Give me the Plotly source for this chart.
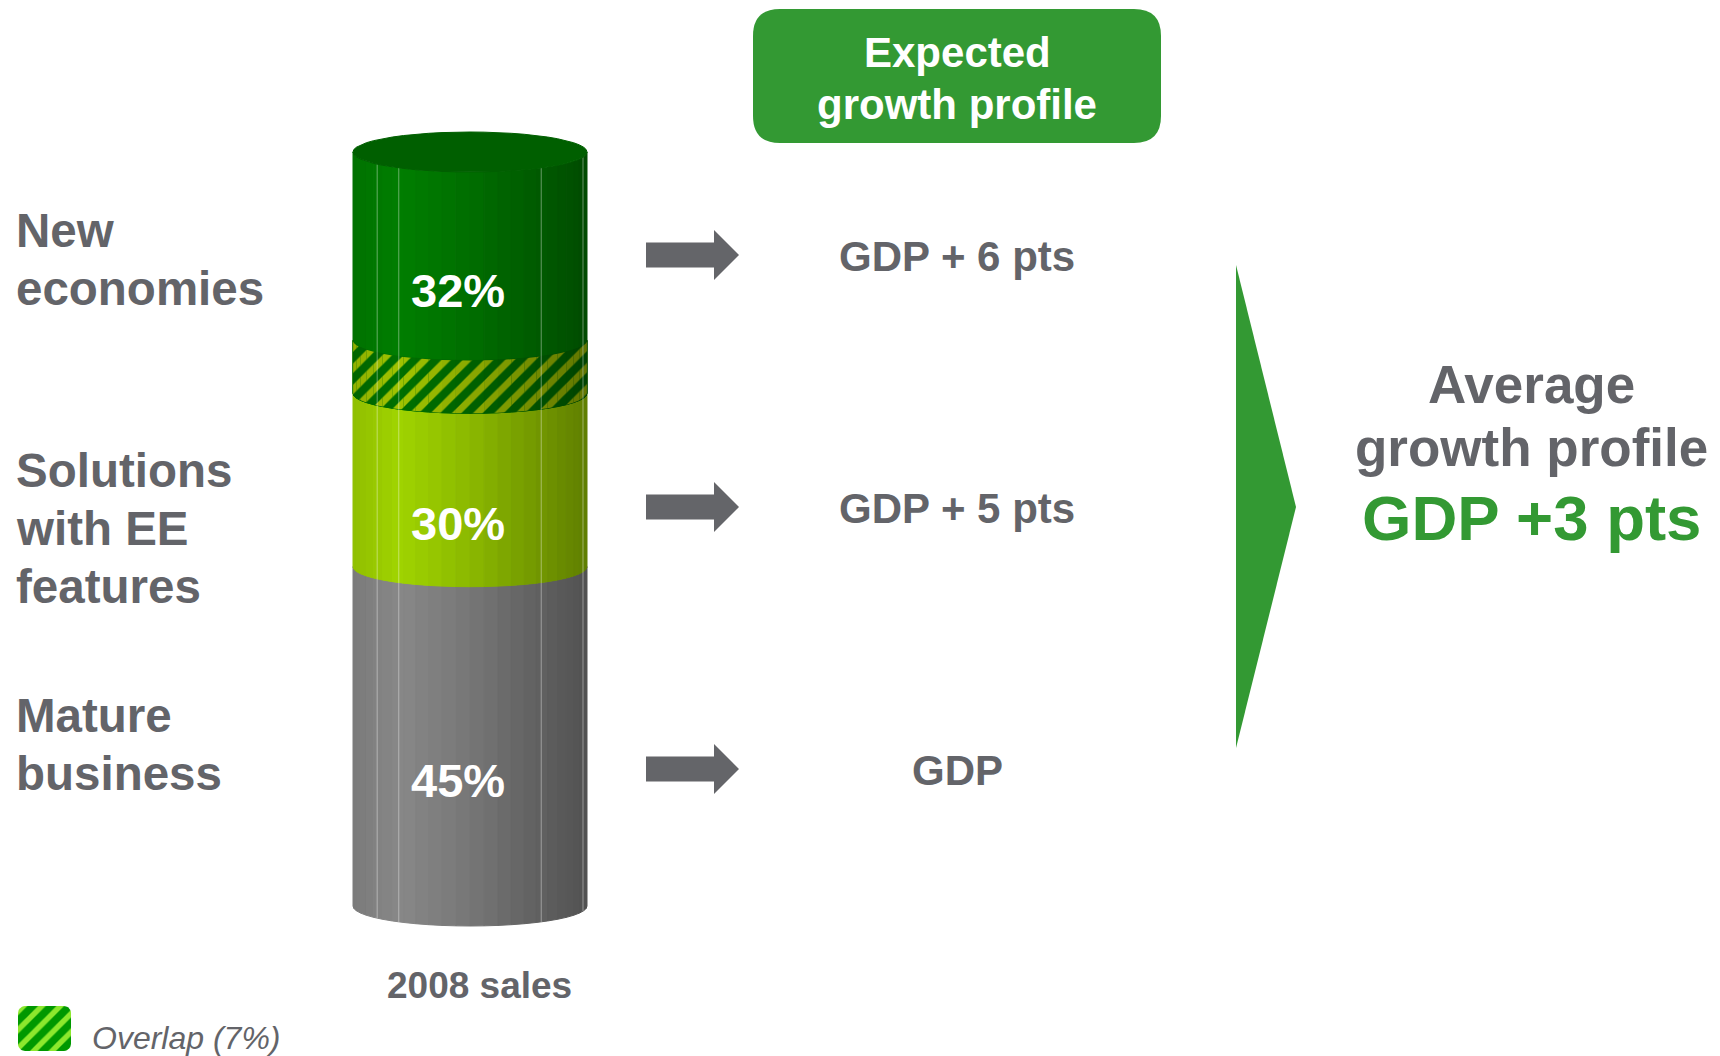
import numpy as np
import plotly.graph_objects as go

# 2008 sales split by business type (% of total sales)
segment_names = ["Mature<br>business", "Solutions<br>with EE<br>features", "New<br>economies"]
segment_shares = [45, 30, 32]
overlap_share = 7          # sales counted in both "Solutions" and "New economies"
share_labels = [f"{v}%" for v in segment_shares]
overlap_label = f"Overlap ({overlap_share}%)"
growth_profiles = ["GDP", "GDP + 5 pts", "GDP + 6 pts"]
header_lines = ["Expected", "growth profile"]
average_lines = ["Average", "growth profile"]
average_profile = "GDP +3 pts"
caption = "2008 sales"

# ---- palette / fonts ----
TXT_GRAY = "#636469"
BRAND_GREEN = "#339933"
FONT = "Liberation Sans, Arial, sans-serif"
seg_rgb = [(136, 136, 136), (160, 212, 0), (0, 126, 0)]
band_dark = (0, 112, 0)
band_light = (160, 195, 0)
cap_rgb = (0, 95, 0)

W, H = 1720, 1056
# cylinder geometry (x in page pixels, y in % of sales)
CX, RX = 470, 117
PX_PER_PCT = 7.54
Y_BASE_PX = 906
RY = 20 / PX_PER_PCT
y_lo = -(H - Y_BASE_PX) / PX_PER_PCT
y_hi = Y_BASE_PX / PX_PER_PCT

# stacked extents of each segment
lows, highs = [], []
base = 0
for i, v in enumerate(segment_shares):
    lo = base - (overlap_share if i == 2 else 0)
    lows.append(lo)
    highs.append(lo + v)
    base = lo + v
ov_lo, ov_hi = lows[2], highs[1]


def shade_factor(theta):
    u = (1 + np.cos(theta)) / 2
    return float(np.interp(u, [0, 0.2, 0.5, 1.0], [0.9, 1.0, 0.87, 0.6]))


def rgb(c, f=1.0):
    r, g, b = (int(round(min(255, x * f))) for x in c)
    return f"rgb({r},{g},{b})"


N = 26
thetas = np.linspace(np.pi, 0, N + 1)
fig = go.Figure()


def facet_xy(lo, hi, t0, t1):
    xa, xb = CX + RX * np.cos(t0), CX + RX * np.cos(t1)
    sa, sb = RY * np.sin(t0), RY * np.sin(t1)
    return [xa, xb, xb, xa, xa], [lo - sa, lo - sb, hi - sb, hi - sa, lo - sa]


def add_poly(xs, ys, color, yaxis="y"):
    fig.add_trace(go.Scatter(
        x=xs, y=ys, mode="lines", fill="toself", fillcolor=color,
        line=dict(color=color, width=1),
        hoverinfo="skip", showlegend=False, yaxis=yaxis))


# segment faces
for i in range(3):
    for k in range(N):
        t0, t1 = thetas[k], thetas[k + 1]
        f = shade_factor((t0 + t1) / 2)
        xs, ys = facet_xy(lows[i], highs[i], t0, t1)
        add_poly(xs, ys, rgb(seg_rgb[i], f))

# hatched overlap band
for k in range(N):
    t0, t1 = thetas[k], thetas[k + 1]
    f = shade_factor((t0 + t1) / 2)
    xs, ys = facet_xy(ov_lo, ov_hi, t0, t1)
    add_poly(xs, ys, rgb(band_dark, f))
for k in range(N):
    t0, t1 = thetas[k], thetas[k + 1]
    f = shade_factor((t0 + t1) / 2)
    xs, ys = facet_xy(ov_lo, ov_hi, t0, t1)
    fig.add_trace(go.Scatter(
        x=xs, y=ys, mode="lines", fill="toself", fillcolor="rgba(0,0,0,0)",
        fillpattern=dict(shape="/", size=15, solidity=0.45,
                         fgcolor=rgb(band_light, f), bgcolor="rgba(0,0,0,0)",
                         fillmode="replace"),
        line=dict(width=0), hoverinfo="skip", showlegend=False))

# faint facet edges
for t in np.deg2rad([142.5, 127.5, 52.5, 15.0]):
    x = CX + RX * np.cos(t)
    s = RY * np.sin(t)
    fig.add_trace(go.Scatter(x=[x, x], y=[0 - s, 100 - s], mode="lines",
                             line=dict(color="rgba(255,255,255,0.4)", width=1),
                             hoverinfo="skip", showlegend=False))

# top cap
ang = np.linspace(0, 2 * np.pi, 2 * N + 1)
add_poly(CX + RX * np.cos(ang), 100 + RY * np.sin(ang), rgb(cap_rgb))

# share labels on the cylinder
visible = [(lows[0], highs[0]), (highs[0], ov_lo), (ov_hi, highs[2])]
annotations = []
for (a, b), lab in zip(visible, share_labels):
    annotations.append(dict(x=CX - 12, y=(a + b) / 2 - 2.2 * RY, xref="x", yref="y",
                            text=lab, showarrow=False,
                            font=dict(family=FONT, size=47, color="white", weight="bold")))

# ---- page furniture (pixel coordinates on y2) ----
row_y = [770, 508, 256]
label_top_y = [715, 470.5, 230]
LINE_STEP = 58

for name, y in zip(segment_names, label_top_y):
    for j, line in enumerate(name.split("<br>")):
        annotations.append(dict(x=14, y=y + j * LINE_STEP, xref="x", yref="y2", text=line,
                                showarrow=False, xanchor="left",
                                font=dict(family=FONT, size=47.5, color=TXT_GRAY,
                                          weight="bold")))
for txt, y in zip(growth_profiles, row_y):
    annotations.append(dict(x=957, y=y, xref="x", yref="y2", text=txt, showarrow=False,
                            font=dict(family=FONT, size=42, color=TXT_GRAY, weight="bold")))

for txt, y in zip(header_lines, [52.5, 104]):
    annotations.append(dict(x=957, y=y, xref="x", yref="y2", text=txt, showarrow=False,
                            font=dict(family=FONT, size=42, color="white", weight="bold")))
for txt, y in zip(average_lines, [384, 447]):
    annotations.append(dict(x=1531, y=y, xref="x", yref="y2", text=txt, showarrow=False,
                            font=dict(family=FONT, size=53, color=TXT_GRAY, weight="bold")))

annotations += [
    dict(x=1531, y=518, xref="x", yref="y2", text=average_profile, showarrow=False,
         font=dict(family=FONT, size=63.5, color=BRAND_GREEN, weight="bold")),
    dict(x=479, y=985, xref="x", yref="y2", text=caption, showarrow=False,
         font=dict(family=FONT, size=37, color=TXT_GRAY, weight="bold")),
    dict(x=90, y=1038, xref="x", yref="y2", text=overlap_label, showarrow=False,
         xanchor="left",
         font=dict(family=FONT, size=32, color=TXT_GRAY, style="italic")),
]

shapes = []
# arrows pointing to each growth profile
for y in row_y:
    yc = y - 1
    shapes.append(dict(type="path", xref="x", yref="y2", fillcolor="#646569", line=dict(width=0),
                       path=(f"M646,{yc-12.5} L714,{yc-12.5} L714,{yc-25} L739,{yc} "
                             f"L714,{yc+25} L714,{yc+12.5} L646,{yc+12.5} Z")))

# rounded header box
x0, x1, y0, y1, r = 753, 1161, 9, 143, 27
shapes.append(dict(type="path", xref="x", yref="y2", fillcolor=BRAND_GREEN, line=dict(width=0),
                   layer="below",
                   path=(f"M{x0+r},{y0} L{x1-r},{y0} Q{x1},{y0} {x1},{y0+r} L{x1},{y1-r} "
                         f"Q{x1},{y1} {x1-r},{y1} L{x0+r},{y1} Q{x0},{y1} {x0},{y1-r} "
                         f"L{x0},{y0+r} Q{x0},{y0} {x0+r},{y0} Z")))
# large chevron toward the average
shapes.append(dict(type="path", xref="x", yref="y2", fillcolor=BRAND_GREEN, line=dict(width=0),
                   path="M1236,265 L1296,507 L1236,748 Z"))

# legend swatch for the overlap hatch
sx0, sx1, sy0, sy1, sr = 18, 71, 1006, 1051, 7
pts = []
for (cx_, cy_, a0) in [(sx1 - sr, sy0 + sr, -90), (sx1 - sr, sy1 - sr, 0),
                       (sx0 + sr, sy1 - sr, 90), (sx0 + sr, sy0 + sr, 180)]:
    for a in np.deg2rad(np.linspace(a0, a0 + 90, 8)):
        pts.append((cx_ + sr * np.cos(a), cy_ + sr * np.sin(a)))
pts.append(pts[0])
fig.add_trace(go.Scatter(
    x=[p[0] for p in pts], y=[p[1] for p in pts], yaxis="y2", mode="lines",
    fill="toself", fillcolor="rgba(0,0,0,0)",
    fillpattern=dict(shape="/", size=13, solidity=0.42, fgcolor="rgb(140,232,45)",
                     bgcolor="rgb(0,152,0)", fillmode="replace"),
    line=dict(width=0), hoverinfo="skip", showlegend=False))

fig.update_layout(
    width=W, height=H, autosize=False,
    margin=dict(l=0, r=0, t=0, b=0),
    paper_bgcolor="white", plot_bgcolor="white",
    showlegend=False,
    xaxis=dict(range=[0, W], visible=False, fixedrange=True),
    yaxis=dict(range=[y_lo, y_hi], visible=False, fixedrange=True),
    yaxis2=dict(range=[H, 0], visible=False, fixedrange=True, overlaying="y", anchor="x"),
    annotations=annotations,
    shapes=shapes,
)

fig.write_html("out.html")
